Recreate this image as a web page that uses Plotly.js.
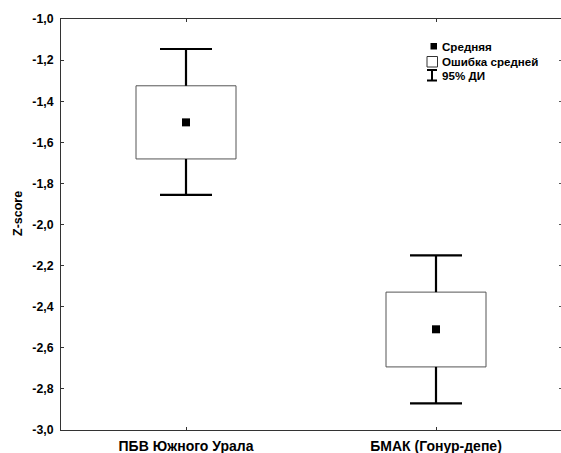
<!DOCTYPE html>
<html>
<head>
<meta charset="utf-8">
<script src="https://cdn.plot.ly/plotly-3.0.1.min.js"></script>
<style>
html,body{margin:0;padding:0;background:#fff;}
#chart{width:561px;height:453px;}
</style>
</head>
<body>
<div id="chart"></div>
<script>
// ---- data ----
const categories = ['ПБВ Южного Урала', 'БМАК (Гонур-депе)'];
const means  = [-1.503, -2.510];
const seLow  = [-1.681, -2.693];
const seHigh = [-1.325, -2.329];
const ciLow  = [-1.856, -2.870];
const ciHigh = [-1.146, -2.150];
const yTickVals  = [-1.0, -1.2, -1.4, -1.6, -1.8, -2.0, -2.2, -2.4, -2.6, -2.8, -3.0];
const yTickText  = ['-1,0', '-1,2', '-1,4', '-1,6', '-1,8', '-2,0', '-2,2', '-2,4', '-2,6', '-2,8', '-3,0'];
const legendLabels = ['Средняя', 'Ошибка средней', '95% ДИ'];
const yTitle = 'Z-score';

// ---- build marks ----
const xpos = categories.map((c, i) => i);
const boxHalf = 0.2, capHalf = 0.104;

const boxX = [], boxY = [];
const whX = [], whY = [];
xpos.forEach((x, i) => {
  boxX.push(x - boxHalf, x + boxHalf, x + boxHalf, x - boxHalf, x - boxHalf, null);
  boxY.push(seLow[i], seLow[i], seHigh[i], seHigh[i], seLow[i], null);
  whX.push(x, x, null, x, x, null, x - capHalf, x + capHalf, null, x - capHalf, x + capHalf, null);
  whY.push(seHigh[i], ciHigh[i], null, seLow[i], ciLow[i], null, ciHigh[i], ciHigh[i], null, ciLow[i], ciLow[i], null);
});

const traces = [
  {x: boxX, y: boxY, type: 'scatter', mode: 'lines', fill: 'toself', fillcolor: '#ffffff',
   line: {color: '#555555', width: 1}, hoverinfo: 'skip', showlegend: false},
  {x: whX, y: whY, type: 'scatter', mode: 'lines', line: {color: '#000000', width: 2.2},
   hoverinfo: 'skip', showlegend: false},
  {x: xpos, y: means, type: 'scatter', mode: 'markers',
   marker: {symbol: 'square', size: 8, color: '#000000'}, showlegend: false},
  {x: xpos, y: means, type: 'scatter', mode: 'markers', yaxis: 'y2',
   marker: {size: 0, opacity: 0}, showlegend: false, hoverinfo: 'skip'}
];

const fontFam = 'Liberation Sans, Arial, sans-serif';
const px = v => (v - 61) / 500, py = v => (430 - v) / 411;
const shapes = [
  // legend symbols
  {type: 'rect', xref: 'paper', yref: 'paper', x0: px(430.5), x1: px(437),
   y0: py(43), y1: py(49.5), fillcolor: '#000', line: {width: 0}},
  {type: 'rect', xref: 'paper', yref: 'paper', x0: px(427), x1: px(437.5),
   y0: py(56.5), y1: py(67), fillcolor: '#fff', line: {color: '#333', width: 1}},
  {type: 'path', xref: 'paper', yref: 'paper',
   path: 'M' + px(427) + ',' + py(70) + 'L' + px(437) + ',' + py(70) +
         'M' + px(432) + ',' + py(70) + 'L' + px(432) + ',' + py(80.5) +
         'M' + px(427) + ',' + py(80.5) + 'L' + px(437) + ',' + py(80.5),
   line: {color: '#000', width: 2}}
];

const legendY = [46, 61.5, 75.5];
const annotations = legendLabels.map((t, i) => ({
  text: '<b>' + t + '</b>', xref: 'paper', yref: 'paper',
  x: px(440), y: py(legendY[i]), xanchor: 'left', yanchor: 'middle',
  showarrow: false, font: {family: fontFam, size: 11.6, color: '#000'}
}));
annotations.push({
  text: '<b>' + yTitle + '</b>', xref: 'paper', yref: 'paper', textangle: -90,
  x: px(18), y: py(214), xanchor: 'center', yanchor: 'middle',
  showarrow: false, font: {family: fontFam, size: 12.5, color: '#000'}
});

const layout = {
  width: 561, height: 453,
  margin: {l: 61, r: 0, t: 19, b: 23, pad: 0},
  paper_bgcolor: '#fff', plot_bgcolor: '#fff',
  showlegend: false,
  font: {family: fontFam, color: '#000'},
  xaxis: {
    range: [-0.5, 1.5], tickvals: xpos, ticktext: categories.map(c => '<b>' + c + '</b>'),
    showgrid: false, zeroline: false, showline: true, linecolor: '#333', linewidth: 1,
    mirror: 'ticks', ticks: 'inside', ticklen: 3, tickcolor: '#333',
    ticklabelstandoff: 3,
    tickfont: {family: fontFam, size: 14, color: '#000'}, fixedrange: true
  },
  yaxis: {
    range: [-3.0, -1.0], tickvals: yTickVals, ticktext: yTickText.map(t => '<b>' + t + '</b>'),
    showgrid: false, zeroline: false, showline: true, linecolor: '#333', linewidth: 1,
    ticks: 'inside', ticklen: 3, tickcolor: '#333',
    ticklabelstandoff: 4,
    tickfont: {family: fontFam, size: 12.3, color: '#000'}, fixedrange: true
  },
  yaxis2: {
    overlaying: 'y', side: 'right', range: [-3.0, -1.0], tickvals: yTickVals,
    showticklabels: false, showgrid: false, zeroline: false, showline: false,
    ticks: 'inside', ticklen: 2, tickcolor: '#555'
  },
  shapes: shapes,
  annotations: annotations
};

Plotly.newPlot('chart', traces, layout, {displayModeBar: false, staticPlot: true});
</script>
</body>
</html>
